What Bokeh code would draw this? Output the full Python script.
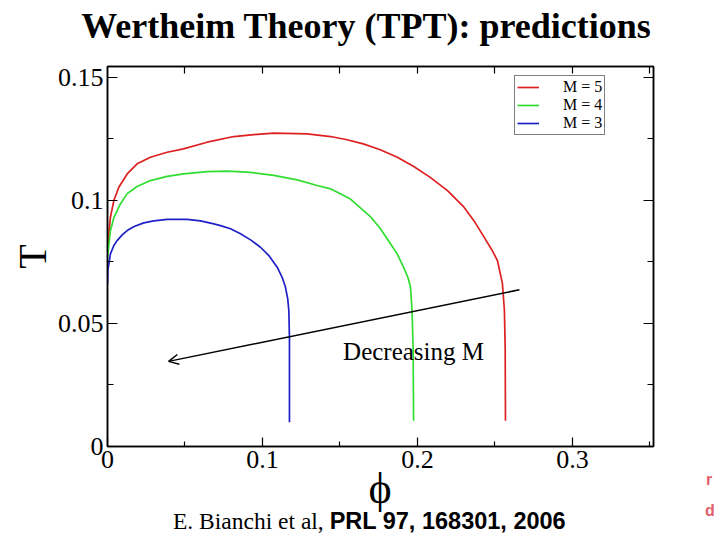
from bokeh.plotting import figure
from bokeh.layouts import column
from bokeh.models import (Range1d, FixedTicker, LinearAxis, Label, Arrow, OpenHead,
                          Legend, LegendItem, CustomLabelingPolicy, Div)
from bokeh.embed import file_html
from bokeh.resources import INLINE

# ---------------- data ----------------
phi_m5 = [0.0, 0.0019, 0.0041, 0.0073, 0.0127, 0.0191, 0.0277, 0.0385, 0.049, 0.0643,
          0.0815, 0.0944, 0.1073, 0.1288, 0.144, 0.1546, 0.165, 0.176, 0.187, 0.1976,
          0.208, 0.2192, 0.230, 0.2363, 0.243, 0.2482, 0.2516, 0.2548, 0.2561, 0.2566, 0.2568]
T_m5 = [0.0810, 0.0932, 0.1000, 0.1054, 0.1108, 0.1149, 0.1176, 0.1196, 0.1210, 0.1237,
        0.1260, 0.1268, 0.1274, 0.1271, 0.1260, 0.1247, 0.1230, 0.1206, 0.1176, 0.1138,
        0.1095, 0.1041, 0.0973, 0.0919, 0.0851, 0.0797, 0.0756, 0.0663, 0.0553, 0.0400, 0.0105]

phi_m4 = [0.0, 0.0019, 0.0041, 0.0084, 0.0127, 0.0191, 0.0277, 0.0385, 0.0492, 0.0643,
          0.0772, 0.0923, 0.1073, 0.1224, 0.1353, 0.144, 0.1503, 0.157, 0.1632, 0.170,
          0.1761, 0.1826, 0.1869, 0.191, 0.1938, 0.1955, 0.1965, 0.1972, 0.1975]
T_m4 = [0.0770, 0.0878, 0.0930, 0.0987, 0.1028, 0.1057, 0.1081, 0.1098, 0.1108, 0.1117,
        0.1119, 0.1114, 0.1102, 0.1084, 0.1061, 0.1047, 0.1027, 0.1005, 0.0970, 0.0932,
        0.0885, 0.0824, 0.0783, 0.0729, 0.0688, 0.0648, 0.0553, 0.0400, 0.0105]

phi_m3 = [0.0, 0.0002, 0.0019, 0.0041, 0.0062, 0.0095, 0.0127, 0.0172, 0.0234, 0.0299,
          0.0385, 0.0514, 0.060, 0.0686, 0.0729, 0.0794, 0.0858, 0.0923, 0.0987, 0.1041,
          0.1095, 0.1127, 0.1148, 0.1163, 0.1170, 0.1174, 0.1174]
T_m3 = [0.0660, 0.0715, 0.0783, 0.0817, 0.0837, 0.0860, 0.0878, 0.0894, 0.0909, 0.0917,
        0.0923, 0.0923, 0.0917, 0.0905, 0.0898, 0.0885, 0.0865, 0.0840, 0.0810, 0.0776,
        0.0729, 0.0688, 0.0648, 0.0600, 0.0553, 0.0444, 0.0099]

series_labels = ["M = 5", "M = 4", "M = 3"]

x_ticks = [0, 0.1, 0.2, 0.3]
x_minor = [0.05, 0.15, 0.25, 0.35]
x_tick_labels = ["0", "0.1", "0.2", "0.3"]
y_ticks = [0, 0.05, 0.1, 0.15]
y_minor = [0.025, 0.075, 0.125]
y_tick_labels = ["0", "0.05", "0.1", "0.15"]
top_ticks = [0.05, 0.1, 0.15, 0.2, 0.25, 0.3, 0.35]

arrow_start = (0.2658, 0.0637)
arrow_end = (0.0394, 0.0346)

title_text = "Wertheim Theory (TPT): predictions"
x_label = "\u03d5"
y_label = "T"
arrow_text = "Decreasing M"
cite_authors = "E. Bianchi et al, "
cite_ref = "PRL 97, 168301, 2006"

SERIF = "Liberation Serif"
SANS = "Liberation Sans"
W = 720
ASC_SERIF = 0.8375   # baseline offset (em) for line-height 1
ASC_SANS = 0.8465


def text_block(text, left, baseline, size, family, asc, weight="normal", color="black",
               width=None, align="left"):
    top = baseline - asc * size
    w = f"width:{width}px;" if width else ""
    return (f'<div style="position:absolute;left:{left}px;top:{top:.1f}px;{w}'
            f'text-align:{align};font-family:\'{family}\';font-size:{size}px;'
            f'font-weight:{weight};color:{color};line-height:1;white-space:nowrap;">'
            f'{text}</div>')


# ---------------- title strip (HTML) ----------------
H0 = 56
title_html = ('<div style="position:relative;width:720px;height:56px;overflow:visible;">'
              + text_block(title_text, 66, 38, 36, SERIF, ASC_SERIF, weight="bold",
                           width=600, align="center")
              + '</div>')
top_div = Div(text=title_html, width=W, height=H0, margin=(0, 0, 0, 0))

# ---------------- main chart ----------------
H1 = 423
p = figure(width=W, height=H1, output_backend="svg", toolbar_location=None,
           x_range=Range1d(0, 0.3523), y_range=Range1d(0, 0.15447),
           min_border_left=107, min_border_right=67, min_border_top=10, min_border_bottom=33,
           background_fill_color="white", border_fill_color="white", margin=(0, 0, 0, 0))
p.xgrid.visible = False
p.ygrid.visible = False
p.outline_line_color = "black"
p.outline_line_width = 1.5

r5 = p.line(phi_m5, T_m5, line_color="#dd2020", line_width=1.7)
r4 = p.line(phi_m4, T_m4, line_color="#30dd30", line_width=1.7)
r3 = p.line(phi_m3, T_m3, line_color="#2020c8", line_width=1.7)


def style_axis(ax, tick_in, minor_in):
    ax.axis_line_color = "black"
    ax.axis_line_width = 1.5
    ax.major_tick_line_color = "black"
    ax.major_tick_line_width = 1.2
    ax.minor_tick_line_color = "black"
    ax.minor_tick_line_width = 1.2
    ax.major_tick_in = tick_in
    ax.major_tick_out = 0
    ax.minor_tick_in = minor_in
    ax.minor_tick_out = 0


xa = p.xaxis[0]
xa.ticker = FixedTicker(ticks=x_ticks, minor_ticks=x_minor)
xa.major_label_overrides = dict(zip(x_ticks, x_tick_labels))
style_axis(xa, 9, 5)
xa.major_label_text_font = SERIF
xa.major_label_text_font_size = "26px"
xa.major_label_text_color = "black"
xa.major_label_standoff = 4

ya = p.yaxis[0]
ya.ticker = FixedTicker(ticks=y_ticks, minor_ticks=y_minor)
ya.major_label_overrides = dict(zip(y_ticks, y_tick_labels))
style_axis(ya, 10, 6)
ya.major_label_text_font = SERIF
ya.major_label_text_font_size = "26px"
ya.major_label_text_color = "black"
ya.major_label_standoff = 4
ya.axis_label = y_label
ya.axis_label_text_font = SERIF
ya.axis_label_text_font_style = "normal"
ya.axis_label_text_font_size = "40px"
ya.axis_label_text_color = "black"
ya.axis_label_standoff = 0

no_labels = CustomLabelingPolicy(code="return []")

top = LinearAxis(ticker=FixedTicker(ticks=top_ticks, minor_ticks=[]),
                 major_label_policy=no_labels)
style_axis(top, 7, 0)
top.major_label_text_font_size = "1px"
top.major_label_standoff = 0
p.add_layout(top, "above")

right = LinearAxis(ticker=FixedTicker(ticks=y_ticks, minor_ticks=y_minor),
                   major_label_policy=no_labels)
style_axis(right, 10, 6)
right.major_label_text_font_size = "1px"
right.major_label_standoff = 0
p.add_layout(right, "right")

legend = Legend(items=[LegendItem(label=series_labels[0], renderers=[r5]),
                       LegendItem(label=series_labels[1], renderers=[r4]),
                       LegendItem(label=series_labels[2], renderers=[r3])],
                location=(407, 311), margin=0, padding=2, spacing=0,
                glyph_width=22, glyph_height=16, label_height=16, label_standoff=24,
                label_text_font=SERIF, label_text_font_size="16px", label_text_color="black",
                label_text_line_height=1.0,
                border_line_color="black", border_line_width=1,
                background_fill_color="white", background_fill_alpha=1)
p.add_layout(legend)

p.add_layout(Arrow(end=OpenHead(size=10, line_width=1.5, line_color="black"),
                   x_start=arrow_start[0], y_start=arrow_start[1],
                   x_end=arrow_end[0], y_end=arrow_end[1],
                   line_width=1.5, line_color="black"))

p.add_layout(Label(x=0.152, y=0.0387, text=arrow_text, text_font=SERIF,
                   text_font_size="25px", text_color="black", text_baseline="alphabetic"))

# ---------------- bottom strip (HTML): x label, citation ----------------
H2 = 540 - H0 - H1
cite_line = (f'<span style="font-family:\'{SERIF}\';font-weight:normal;">{cite_authors}</span>'
             f'<span style="font-family:\'{SANS}\';font-weight:bold;">{cite_ref}</span>')
bottom_html = ('<div style="position:relative;width:720px;height:61px;overflow:visible;">'
               + text_block(x_label, 280, 24.5, 44, SERIF, ASC_SERIF, width=200, align="center")
               + text_block(cite_line, 173, 51, 23.5, SERIF, ASC_SANS)
               + text_block("r", 706, 6, 16, SANS, ASC_SANS, weight="bold", color="#e0606c")
               + text_block("d", 705, 37.7, 16, SANS, ASC_SANS, weight="bold", color="#e0606c")
               + '</div>')
bottom_div = Div(text=bottom_html, width=W, height=H2, margin=(0, 0, 0, 0))

layout = column(top_div, p, bottom_div, spacing=0)
open("out.html", "w").write(file_html(layout, INLINE))
